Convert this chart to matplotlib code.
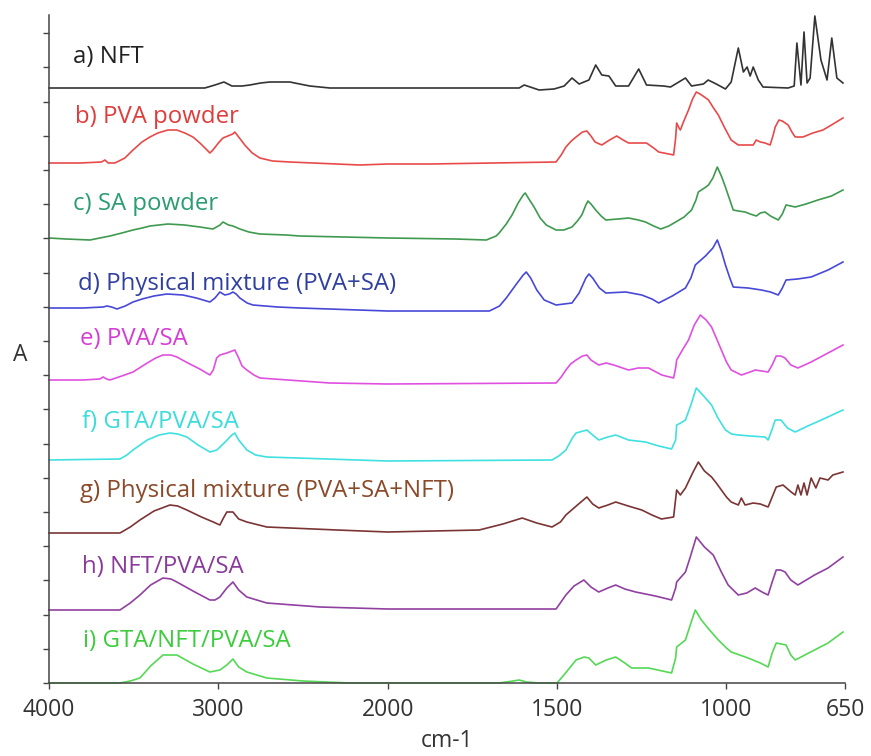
import numpy as np
import matplotlib
matplotlib.use("Agg")
import matplotlib.pyplot as plt

# ---------------- data (wavenumber cm-1, relative absorbance) ----------------
labels = ["a) NFT", "b) PVA powder", "c) SA powder", "d) Physical mixture (PVA+SA)",
          "e) PVA/SA", "f) GTA/PVA/SA", "g) Physical mixture (PVA+SA+NFT)",
          "h) NFT/PVA/SA", "i) GTA/NFT/PVA/SA"]

offsets = [595, 520, 445, 375, 303, 223, 150, 73, 0]

nft_wn = [4000, 3080, 3020, 2967, 2920, 2860, 2814, 2750, 2696, 2640, 2578, 2520, 2460, 2342, 1612,
          1597, 1553, 1509, 1479, 1456, 1435, 1406, 1386, 1368, 1347, 1327, 1289, 1259, 1236,
          1186, 1165, 1121, 1103, 1068, 1054, 1030, 1003, 986, 965, 950, 939, 930, 921, 906,
          892, 818, 800, 792, 780, 771, 762, 753, 739, 721, 703, 689, 674, 656]
nft_a = [0, 0, 3, 6, 2, 2, 3, 5, 6, 6, 6, 4, 2, 0, 0,
         3, -2, -1, 2, 10, 4, 8, 23, 13, 12, 2, 2, 19, 3,
         2, 1, 10, 2, 4, 8, 4, -1, 6, 40, 16, 21, 12, 21, 8,
         1, 0, 2, 45, 3, 56, 5, 10, 72, 28, 8, 50, 10, 5]

pva_wn = [4000, 3817, 3690, 3670, 3650, 3611, 3552, 3504, 3451, 3404, 3357, 3298, 3245, 3198,
          3150, 3109, 3073, 3050, 3032, 3000, 2973, 2944, 2915, 2903, 2880, 2844, 2800, 2755,
          2680, 2578, 2165, 2000, 1877, 1503, 1488, 1474, 1458, 1444, 1425, 1412, 1400, 1388,
          1368, 1345, 1324, 1305, 1289, 1260, 1236, 1215, 1200, 1170, 1156, 1150, 1147, 1140,
          1136, 1127, 1112, 1100, 1089, 1078, 1065, 1053, 1040, 1024, 1005, 986, 965, 940, 921,
          912, 900, 886, 871, 862, 856, 845, 835, 818, 805, 797, 774, 745, 715, 690, 656]
pva_a = [0, 0, 1, 3, 0, 0, 5, 13, 21, 26, 30, 33, 33, 30,
         26, 20, 14, 10, 13, 20, 25, 27, 29, 31, 26, 18, 10, 5,
         2, 1, -2, -1, -1, 1, 8, 16, 22, 26, 31, 32, 27, 21,
         18, 23, 27, 23, 20, 20, 20, 15, 11, 9, 8, 25, 40, 35,
         33, 41, 53, 64, 71, 69, 66, 63, 56, 48, 35, 23, 18, 18, 18,
         23, 21, 20, 18, 28, 36, 43, 42, 38, 30, 26, 26, 30, 33, 38, 45]

sa_wn = [4000, 3900, 3758, 3700, 3640, 3570, 3504, 3450, 3404, 3350, 3298, 3200, 3109, 3032,
         2990, 2973, 2940, 2914, 2873, 2820, 2755, 2600, 2519, 2000, 1800, 1709, 1680, 1671,
         1650, 1633, 1615, 1600, 1594, 1585, 1568, 1550, 1532, 1503, 1480, 1456, 1440, 1427,
         1415, 1409, 1400, 1386, 1370, 1356, 1320, 1289, 1260, 1239, 1215, 1194, 1170, 1150,
         1125, 1103, 1090, 1083, 1065, 1053, 1040, 1027, 1015, 1003, 990, 980, 965, 945, 930,
         912, 900, 886, 870, 847, 835, 824, 810, 797, 765, 730, 690, 656]
sa_a = [0, -1, -2, 0, 2, 5, 8, 10, 12, 13, 14, 13, 11, 9,
        13, 16, 13, 12, 9, 6, 4, 3, 2, 0, -1, -2, 2, 5,
        14, 23, 35, 43, 45, 40, 31, 20, 13, 8, 8, 11, 17, 23,
        33, 37, 34, 28, 22, 18, 19, 20, 18, 16, 12, 9, 12, 16,
        21, 28, 38, 46, 50, 53, 60, 71, 62, 51, 38, 28, 27, 26, 24,
        22, 25, 26, 22, 18, 24, 33, 32, 31, 34, 38, 42, 48]

pm1_wn = [4000, 3800, 3680, 3658, 3630, 3599, 3550, 3504, 3450, 3380, 3304, 3209, 3130, 3050,
          3020, 2991, 2962, 2935, 2914, 2895, 2873, 2830, 2796, 2650, 2519, 2000, 1700, 1670,
          1650, 1620, 1600, 1591, 1578, 1560, 1538, 1503, 1456, 1435, 1415, 1406, 1395, 1375,
          1356, 1297, 1250, 1220, 1200, 1160, 1121, 1105, 1092, 1062, 1040, 1027, 1015, 1003,
          990, 980, 936, 897, 870, 847, 835, 824, 790, 750, 700, 656]
pm1_a = [0, 0, 1, 2, 1, -1, 2, 6, 9, 12, 14, 13, 10, 6,
         10, 16, 13, 14, 16, 14, 10, 5, 3, 1, 0, -3, -3, 2,
         10, 24, 33, 36, 30, 18, 8, 3, 5, 15, 30, 34, 30, 20,
         15, 16, 13, 9, 5, 12, 20, 30, 43, 52, 60, 68, 57, 43,
         30, 21, 20, 18, 16, 13, 20, 28, 29, 31, 38, 46]

pvasa_wn = [4000, 3800, 3700, 3681, 3660, 3640, 3570, 3504, 3420, 3370, 3327, 3280, 3245, 3180,
            3110, 3050, 3030, 3010, 2991, 2950, 2903, 2880, 2860, 2832, 2790, 2755, 2342, 2000,
            1503, 1488, 1474, 1460, 1444, 1425, 1412, 1400, 1377, 1355, 1333, 1289, 1260, 1230,
            1191, 1156, 1150, 1147, 1130, 1112, 1095, 1077, 1060, 1044, 1030, 1015, 1000, 986,
            956, 930, 915, 877, 865, 853, 840, 827, 810, 789, 750, 700, 656]
pvasa_a = [0, 0, 1, 3, 1, 0, 4, 8, 17, 22, 25, 25, 23, 17,
           11, 5, 10, 22, 25, 27, 30, 22, 14, 10, 5, 2, -3, -4,
           -3, 3, 10, 16, 20, 24, 25, 20, 15, 17, 15, 10, 12, 12,
           5, 2, 12, 20, 30, 40, 55, 65, 60, 53, 42, 30, 18, 10,
           5, 8, 10, 8, 15, 24, 24, 22, 15, 12, 18, 27, 35]

gta_wn = [4000, 3581, 3540, 3504, 3420, 3350, 3286, 3240, 3186, 3120, 3050, 3009, 2960, 2920,
          2903, 2880, 2832, 2780, 2714, 2000, 1515, 1495, 1474, 1455, 1444, 1412, 1395, 1377,
          1350, 1327, 1289, 1239, 1200, 1162, 1150, 1147, 1135, 1121, 1105, 1089, 1070, 1044,
          1025, 1003, 985, 965, 930, 886, 877, 866, 856, 839, 820, 797, 760, 720, 656]
gta_a = [0, 1, 5, 10, 20, 25, 27, 26, 23, 15, 8, 10, 18, 25,
         27, 20, 10, 5, 3, -1, 0, 4, 10, 22, 27, 30, 25, 20,
         23, 25, 20, 18, 14, 11, 20, 35, 37, 40, 55, 72, 65, 55,
         42, 30, 26, 25, 24, 23, 20, 30, 40, 40, 32, 28, 34, 40, 50]

pm2_wn = [4000, 3581, 3520, 3463, 3380, 3286, 3240, 3186, 3100, 3030, 2991, 2970, 2950, 2914,
          2880, 2832, 2714, 2300, 2000, 1730, 1660, 1603, 1560, 1515, 1490, 1474, 1440, 1412,
          1395, 1377, 1350, 1327, 1290, 1250, 1220, 1192, 1156, 1147, 1136, 1121, 1100, 1083,
          1065, 1044, 1030, 1015, 1000, 986, 965, 956, 945, 921, 900, 877, 865, 853, 833, 809,
          797, 789, 780, 771, 762, 750, 736, 724, 700, 686, 656]
pm2_a = [0, 0, 6, 13, 22, 28, 27, 23, 16, 11, 8, 15, 21, 21,
         14, 11, 6, 3, 1, 3, 9, 15, 10, 6, 11, 18, 28, 36,
         29, 25, 28, 31, 27, 23, 18, 14, 16, 43, 38, 45, 60, 71,
         62, 56, 50, 43, 36, 31, 28, 35, 28, 30, 29, 26, 36, 46, 48, 41,
         38, 48, 38, 50, 38, 55, 45, 55, 53, 58, 61]

nftpvasa_wn = [4000, 3581, 3520, 3463, 3400, 3327, 3280, 3245, 3150, 3050, 3020, 2991, 2950,
               2914, 2880, 2832, 2714, 2400, 2000, 1503, 1474, 1450, 1421, 1400, 1377, 1350,
               1327, 1300, 1268, 1210, 1162, 1150, 1147, 1121, 1105, 1089, 1065, 1039, 1015,
               995, 965, 940, 915, 895, 877, 865, 853, 840, 827, 810, 789, 740, 700, 656]
nftpvasa_a = [0, 0, 7, 15, 25, 32, 31, 28, 19, 10, 10, 13, 22,
              28, 20, 13, 7, 3, 1, 1, 15, 24, 30, 23, 18, 22,
              25, 21, 18, 14, 10, 22, 28, 38, 55, 73, 63, 55, 38,
              25, 15, 17, 22, 18, 15, 28, 40, 40, 38, 30, 25, 35, 42, 53]

gtanft_wn = [4000, 3581, 3520, 3463, 3400, 3327, 3245, 3150, 3050, 2991, 2950, 2914, 2880,
             2832, 2714, 2500, 2224, 1965, 1671, 1630, 1612, 1590, 1553, 1500, 1475, 1444,
             1420, 1406, 1386, 1355, 1327, 1300, 1280, 1230, 1162, 1150, 1147, 1121, 1105,
             1092, 1074, 1050, 1024, 1000, 986, 936, 900, 877, 865, 853, 824, 810, 797, 740,
             700, 656]
gtanft_a = [0, 0, 2, 5, 17, 28, 28, 19, 11, 13, 18, 24, 16,
            11, 5, 2, 0, 0, 0, 2, 3, 1, 0, 0, 10, 23,
            26, 25, 18, 23, 26, 20, 15, 15, 10, 25, 36, 43, 60,
            73, 63, 53, 43, 35, 31, 25, 20, 16, 30, 40, 38, 28, 23, 33,
            40, 51]

series_wn = [nft_wn, pva_wn, sa_wn, pm1_wn, pvasa_wn, gta_wn, pm2_wn, nftpvasa_wn, gtanft_wn]
series_a = [nft_a, pva_a, sa_a, pm1_a, pvasa_a, gta_a, pm2_a, nftpvasa_a, gtanft_a]

x_ticks = [4000, 3000, 2000, 1500, 1000, 650]

# ---------------- style ----------------
line_colors = ["#333333", "#e84a4a", "#3f9a4f", "#4848d8", "#e050e0", "#40e0e0",
               "#7a3434", "#9040a0", "#55d855"]
text_colors = ["#222222", "#e03c3c", "#2a9d72", "#2f3f9f", "#d63cd6", "#3cdcdc",
               "#8a4a2a", "#8a3a9a", "#3ccc3c"]
label_px = [(73, 63), (75, 123), (73, 210), (78, 290), (80, 345), (82, 428),
            (80, 497), (82, 573), (83, 647)]

plt.rcParams['font.family'] = ['Open Sans', 'DejaVu Sans']

W, H = 871, 756
fig = plt.figure(figsize=(W / 100, H / 100), dpi=100)
ax = fig.add_axes([49 / W, 1 - 683 / H, (845 - 49) / W, (683 - 15) / H])


def fwd(x):
    x = np.asarray(x, dtype=float)
    return -np.where(x >= 2000, (4000 - x) / 1000.0, 2 + (2000 - x) / 500.0)


def inv(u):
    u = -np.asarray(u, dtype=float)
    return np.where(u <= 2, 4000 - u * 1000.0, 2000 - (u - 2) * 500.0)


ax.set_xscale('function', functions=(fwd, inv))

for wn, a, off, c in zip(series_wn, series_a, offsets, line_colors):
    ax.plot(wn, np.asarray(a) + off, color=c, lw=1.2, solid_joinstyle='round', clip_on=False)

ax.set_xlim(4000, 650)
ax.set_ylim(0, 668)
ax.set_xticks(x_ticks)
ax.set_xticklabels([str(t) for t in x_ticks])
ax.set_yticks(np.arange(0, 660, 34.2))
ax.set_yticklabels([])
ax.minorticks_off()

for s in ['top', 'right']:
    ax.spines[s].set_visible(False)
for s in ['left', 'bottom']:
    ax.spines[s].set_color('#444444')
    ax.spines[s].set_linewidth(1.1)
ax.tick_params(axis='both', direction='out', length=4, width=1, color='#444444')
ax.tick_params(axis='x', labelsize=16.5, labelcolor='#333333', pad=7)

ax.set_xlabel('cm-1', fontsize=16.5, color='#333333')
ax.xaxis.set_label_coords(0.5, (683 - 729) / 668)
ax.set_ylabel('A', fontsize=16.5, color='#333333', rotation=0, va='center', ha='center')
ax.yaxis.set_label_coords((20 - 49) / 796, (683 - 355) / 668)

for lab, (px, py), tc in zip(labels, label_px, text_colors):
    fig.text(px / W, 1 - py / H, lab, color=tc, fontsize=17.3, ha='left', va='baseline')

fig.savefig('out.png', dpi=100)
